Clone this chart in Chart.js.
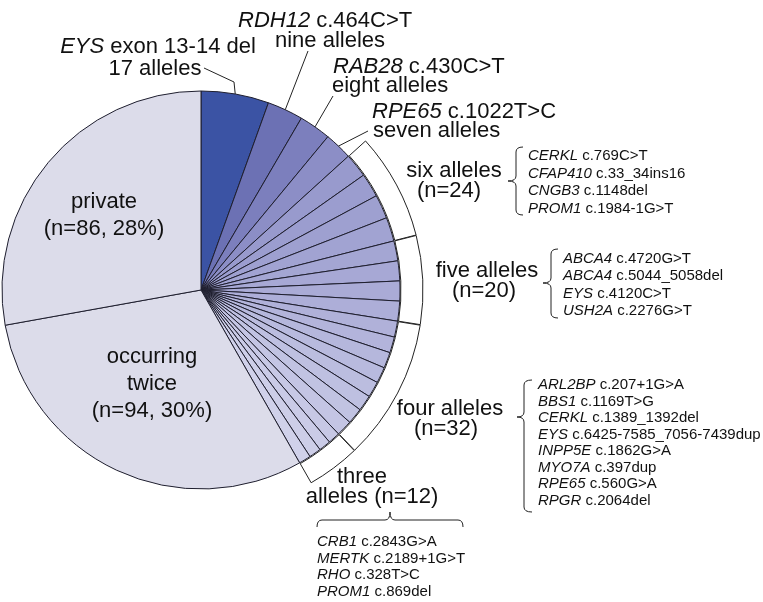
<!DOCTYPE html>
<html>
<head>
<meta charset="utf-8">
<script src="https://cdn.jsdelivr.net/npm/chart.js@4.4.1/dist/chart.umd.min.js"></script>
<style>
  html, body { margin: 0; padding: 0; background: #fff; }
  canvas { display: block; }
</style>
</head>
<body>
<canvas id="alleleChart" width="763" height="602"></canvas>
<script>
// alleles named one by one on the chart
const topVariants = ['EYS exon 13-14 del', 'RDH12 c.464C>T', 'RAB28 c.430C>T', 'RPE65 c.1022T>C'];
const topCounts = [17, 9, 8, 7];
const topWords = ['17 alleles', 'nine alleles', 'eight alleles', 'seven alleles'];

// grouped variants, each variant seen this many times
const sixVariants = ['CERKL c.769C>T', 'CFAP410 c.33_34ins16', 'CNGB3 c.1148del', 'PROM1 c.1984-1G>T'];
const fiveVariants = ['ABCA4 c.4720G>T', 'ABCA4 c.5044_5058del', 'EYS c.4120C>T', 'USH2A c.2276G>T'];
const fourVariants = ['ARL2BP c.207+1G>A', 'BBS1 c.1169T>G', 'CERKL c.1389_1392del', 'EYS c.6425-7585_7056-7439dup',
  'INPP5E c.1862G>A', 'MYO7A c.397dup', 'RPE65 c.560G>A', 'RPGR c.2064del'];
const threeVariants = ['CRB1 c.2843G>A', 'MERTK c.2189+1G>T', 'RHO c.328T>C', 'PROM1 c.869del'];
const groupVariants = [sixVariants, fiveVariants, fourVariants, threeVariants];
const groupAlleles = [6, 5, 4, 3];
const groupWords = ['six', 'five', 'four', 'three'];

const twiceCount = 94;
const privateCount = 86;

// build the pie series (clockwise from 12 o'clock)
const labels = [...topVariants];
const values = [...topCounts];
groupVariants.forEach((list, g) => {
  list.forEach(v => { labels.push(v); values.push(groupAlleles[g]); });
});
labels.push('occurring twice', 'private');
values.push(twiceCount, privateCount);
const total = values.reduce((a, b) => a + b, 0);

// outer ring = brackets around the groups
const sum = arr => arr.reduce((a, b) => a + b, 0);
const ringValues = [sum(topCounts)];
groupVariants.forEach((list, g) => ringValues.push(list.length * groupAlleles[g]));
ringValues.push(twiceCount + privateCount);

// colours
const topColors = ['#3b53a4', '#6c71b4', '#7c7fbd', '#8c8ec6'];
const nGroup = values.length - topColors.length - 2;
const groupColors = [];
for (let i = 0; i < nGroup; i++) {
  const t = i / (nGroup - 1);
  const r = Math.round(152 + (208 - 152) * t);
  const gg = Math.round(154 + (209 - 154) * t);
  const b = Math.round(205 + (234 - 205) * t);
  groupColors.push(`rgb(${r},${gg},${b})`);
}
const sliceColors = [...topColors, ...groupColors, '#dcdcea', '#dcdcea'];
const ringFill = ringValues.map((v, i) => 'rgba(255,255,255,' + (i === 0 || i === ringValues.length - 1 ? 0 : 1) + ')');
const ringBorder = ringValues.map((v, i) => (i === 0 || i === ringValues.length - 1) ? 'rgba(0,0,0,0)' : '#222');

const FONT = '"Liberation Sans", Arial, Helvetica, sans-serif';

function richText(ctx, str, x, y, size, align) {
  // gene name in italics, the rest upright
  const sp = str.indexOf(' ');
  const gene = str.slice(0, sp);
  const rest = str.slice(sp);
  ctx.font = `italic ${size}px ${FONT}`;
  const w1 = ctx.measureText(gene).width;
  ctx.font = `${size}px ${FONT}`;
  const w2 = ctx.measureText(rest).width;
  let x0 = x;
  if (align === 'center') x0 = x - (w1 + w2) / 2;
  ctx.textAlign = 'left';
  ctx.font = `italic ${size}px ${FONT}`;
  ctx.fillText(gene, x0, y);
  ctx.font = `${size}px ${FONT}`;
  ctx.fillText(rest, x0 + w1, y);
}

function plainText(ctx, str, x, y, size, align) {
  ctx.font = `${size}px ${FONT}`;
  ctx.textAlign = align;
  ctx.fillText(str, x, y);
}

function vBrace(ctx, xTip, xMid, xEnd, y0, yTip, y1) {
  const r = 5;
  ctx.beginPath();
  ctx.moveTo(xEnd, y0);
  ctx.quadraticCurveTo(xMid, y0, xMid, y0 + r);
  ctx.lineTo(xMid, yTip - r);
  ctx.quadraticCurveTo(xMid, yTip, xTip, yTip);
  ctx.quadraticCurveTo(xMid, yTip, xMid, yTip + r);
  ctx.lineTo(xMid, y1 - r);
  ctx.quadraticCurveTo(xMid, y1, xEnd, y1);
  ctx.stroke();
}

function hBrace(ctx, yTip, yMid, yEnd, x0, xTip, x1) {
  const r = 5;
  ctx.beginPath();
  ctx.moveTo(x0, yEnd);
  ctx.quadraticCurveTo(x0, yMid, x0 + r, yMid);
  ctx.lineTo(xTip - r, yMid);
  ctx.quadraticCurveTo(xTip, yMid, xTip, yTip);
  ctx.quadraticCurveTo(xTip, yMid, xTip + r, yMid);
  ctx.lineTo(x1 - r, yMid);
  ctx.quadraticCurveTo(x1, yMid, x1, yEnd);
  ctx.stroke();
}

const annotations = {
  id: 'annotations',
  afterDraw(chart) {
    const ctx = chart.ctx;
    const arcs = chart.getDatasetMeta(1).data;
    const edge = i => {
      const a = arcs[i];
      const mid = (a.startAngle + a.endAngle) / 2;
      return [a.x + Math.cos(mid) * a.outerRadius, a.y + Math.sin(mid) * a.outerRadius];
    };
    ctx.save();
    ctx.fillStyle = '#111';
    ctx.strokeStyle = '#222';
    ctx.lineWidth = 1;

    // leader lines for the four named alleles
    let p = edge(0);
    ctx.beginPath();
    ctx.moveTo(204, 68); ctx.lineTo(234, 82); ctx.lineTo(p[0], p[1]);
    ctx.stroke();
    const starts = [null, [308, 51], [333, 96], [368, 131]];
    for (let i = 1; i < 4; i++) {
      p = edge(i);
      ctx.beginPath();
      ctx.moveTo(starts[i][0], starts[i][1]);
      ctx.lineTo(p[0], p[1]);
      ctx.stroke();
    }

    // named alleles
    richText(ctx, topVariants[0], 158, 53, 22, 'center');
    plainText(ctx, topWords[0], 155, 75, 22, 'center');
    richText(ctx, topVariants[1], 238, 27, 22, 'left');
    plainText(ctx, topWords[1], 275, 47, 22, 'left');
    richText(ctx, topVariants[2], 333, 73, 22, 'left');
    plainText(ctx, topWords[2], 332, 92, 22, 'left');
    richText(ctx, topVariants[3], 372, 118, 22, 'left');
    plainText(ctx, topWords[3], 373, 137, 22, 'left');

    // big slices
    const pct = n => Math.round(n / total * 100);
    plainText(ctx, 'private', 104, 208, 22, 'center');
    plainText(ctx, `(n=${privateCount}, ${pct(privateCount)}%)`, 104, 235, 22, 'center');
    plainText(ctx, 'occurring', 152, 363, 22, 'center');
    plainText(ctx, 'twice', 152, 390, 22, 'center');
    plainText(ctx, `(n=${twiceCount}, ${pct(twiceCount)}%)`, 152, 417, 22, 'center');

    // group titles
    const nOf = g => groupVariants[g].length * groupAlleles[g];
    plainText(ctx, groupWords[0] + ' alleles', 454, 177, 22, 'center');
    plainText(ctx, `(n=${nOf(0)})`, 449, 197, 22, 'center');
    plainText(ctx, groupWords[1] + ' alleles', 487, 277, 22, 'center');
    plainText(ctx, `(n=${nOf(1)})`, 484, 297, 22, 'center');
    plainText(ctx, groupWords[2] + ' alleles', 450, 415, 22, 'center');
    plainText(ctx, `(n=${nOf(2)})`, 446, 435, 22, 'center');
    plainText(ctx, groupWords[3], 362, 483, 22, 'center');
    plainText(ctx, `alleles (n=${nOf(3)})`, 372, 503, 22, 'center');

    // group lists with braces
    sixVariants.forEach((v, i) => richText(ctx, v, 528, 160 + i * 17.7, 15, 'left'));
    vBrace(ctx, 508, 516, 523, 147, 181, 215);
    fiveVariants.forEach((v, i) => richText(ctx, v, 563, 263 + i * 17.3, 15, 'left'));
    vBrace(ctx, 543, 551, 558, 249, 283, 318);
    fourVariants.forEach((v, i) => richText(ctx, v, 538, 389 + i * 16.5, 15, 'left'));
    vBrace(ctx, 517, 524, 532, 380, 417, 512);
    threeVariants.forEach((v, i) => richText(ctx, v, 317, 546 + i * 16.7, 15, 'left'));
    hBrace(ctx, 512, 520, 527, 317, 390, 463);

    ctx.restore();
  }
};

new Chart(document.getElementById('alleleChart'), {
  type: 'pie',
  data: {
    labels: labels,
    datasets: [
      {
        label: 'groups',
        data: ringValues,
        backgroundColor: ringFill,
        borderColor: ringBorder,
        borderWidth: 1,
        spacing: 2,
        weight: 22
      },
      {
        label: 'alleles',
        data: values,
        backgroundColor: sliceColors,
        borderColor: '#1e1e2e',
        borderWidth: 1,
        weight: 199
      }
    ]
  },
  options: {
    responsive: false,
    animation: false,
    radius: 221,
    layout: { padding: { left: 0, top: 0, right: 361, bottom: 22 } },
    plugins: {
      legend: { display: false },
      tooltip: { enabled: false }
    }
  },
  plugins: [annotations]
});
</script>
</body>
</html>
